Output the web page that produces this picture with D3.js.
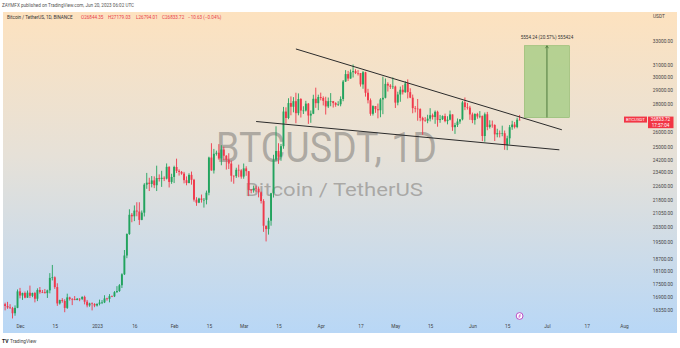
<!DOCTYPE html>
<html>
<head>
<meta charset="utf-8">
<script src="https://cdn.jsdelivr.net/npm/d3@7"></script>
<style>
  body { margin: 0; background: #fff; }
  svg { display: block; font-family: Roboto, "Liberation Sans", sans-serif; }
</style>
</head>
<body>
<div id="chart"></div>
<script>
const width = 680;
const height = 348;
const pane = { 'left': 3, 'top': 12, 'right': 677, 'bottom': 333 };

// daily candles, first one is 2022-11-25
const firstDay = '2022-11-25';
const opens = [16599,16522,16458,16428,16212,16442,
  17163,16977,17092,16885,17105,16966,17089,16837,17224,17128,17127,17085,17209,17775,17804,17356,16633,16777,16738,16439,16896,16825,16821,16779,16835,16830,16918,16707,16547,16634,16607,
  16542,16616,16672,16675,16850,16831,16950,16943,17127,17178,17440,17944,18846,19930,20954,20871,21185,21133,20677,21071,22667,22784,22707,22917,22632,23061,23009,23075,23023,23743,22827,
  23125,23733,23493,23431,23327,22933,22762,23250,22954,21797,21626,21862,21784,21786,22196,24325,23521,24566,24631,24271,24836,24440,24188,23947,23198,23175,23561,23522,
  23147,23646,23475,22362,22354,22436,22429,22216,21718,20363,20187,20633,22163,24197,24746,24375,25055,27423,26965,28038,27768,28175,27307,28333,27493,27494,27994,27139,27268,28348,28028,
  28478,28411,28199,27790,28170,28175,28034,27906,27948,28334,29653,30235,29885,30383,30467,30317,30316,29431,30380,28798,28244,27263,27817,27591,27514,28300,28423,29473,29340,29248,
  29268,28068,28669,29026,28838,29506,28848,28431,27668,27629,27599,26969,26795,26775,26917,27162,27033,27405,26822,26880,27102,26748,26849,27219,26329,26474,26720,26868,28085,27745,27702,
  27219,26819,27249,27069,27116,25728,27230,26339,26499,26477,25841,25925,25902,25918,25125,25576,26327,26510,26339,26844];
const highs = [16666,16701,16600,16483,16548,17249,
  17320,17105,17158,17202,17424,17107,17142,17299,17360,17227,17270,17241,18000,18387,17846,17531,16796,16863,16815,17061,16925,16868,16955,16869,16861,16944,16972,16785,16664,16677,16644,
  16628,16799,16778,16991,16879,17041,16981,17176,17398,17491,17992,19117,19964,21258,21050,21473,21650,21650,21192,22755,23371,23078,23180,23162,23816,23282,23500,23165,23954,23780,23320,
  23812,24255,23587,23485,23433,23158,23350,23452,23011,21938,21906,22090,21890,22319,24380,25250,24879,24766,25191,25121,25023,24476,24600,24132,23219,23689,23880,23600,
  23949,23780,23479,22410,22610,22600,22553,22268,21822,20370,20792,22185,24500,26386,25250,25200,27756,27725,28390,28528,28472,28803,28750,28400,27805,28200,28041,27500,28650,29184,28656,
  28810,28530,28500,28444,28775,28190,28100,28173,28530,29770,30550,30487,30600,31000,30620,30550,30320,30485,30413,29097,28374,27876,27820,28000,28400,30036,29890,29599,29454,29969,
  29338,28879,29266,29379,29677,29820,29138,28664,27821,28336,27654,27055,27030,27194,27663,27279,27500,27485,27183,27150,27277,27090,27495,27219,26631,26932,26886,28193,28447,28044,27835,
  27350,27300,27333,27455,27133,27355,27399,26810,26787,26530,26221,26104,26433,26100,25750,26480,26770,26690,26988,27179];
const lows = [16335,16400,16401,15995,16107,16428,
  16855,16787,16858,16878,16868,16906,16678,16733,17058,17086,17071,16872,17076,17660,17275,16527,16584,16663,16256,16397,16757,16559,16774,16774,16729,16780,16592,16465,16488,16333,16470,
  16499,16548,16605,16647,16753,16679,16908,16911,17100,17142,17315,17910,18714,19887,20551,20611,20873,20407,20659,20861,22422,22292,22506,22462,22292,22850,22534,22878,22977,22500,22715,
  22760,23363,23207,23259,22743,22628,22745,22665,21688,21451,21599,21630,21351,21532,22047,23505,23333,24450,24192,23840,24148,23574,23608,22841,22722,23069,23106,23020,
  23020,23195,22000,22160,22200,22250,21927,21580,20042,19549,19900,20367,21918,24110,23930,24120,24890,26578,26880,27156,27366,26601,27155,27000,27250,27426,26555,26631,27240,27689,27525,
  28234,27862,27210,27675,27805,27711,27767,27821,27800,28170,29620,29700,29875,29967,30236,30125,29266,29100,28510,28010,27125,27140,27331,26942,27020,27235,28380,28891,29088,29079,
  27680,27872,28130,28669,28800,28374,28395,27300,27360,26777,26739,25811,26698,26601,26727,26855,26560,26361,26630,26825,26666,26524,26800,26080,25871,26340,26560,26802,27524,27560,26839,
  26605,26505,26914,26951,25388,25351,26119,26236,26292,25400,25643,25633,25712,24820,24800,25160,26150,26237,26255,26794];
const closes = [16522,16458,16428,16212,16442,17163,
  16977,17092,16885,17105,16966,17089,16837,17224,17128,17127,17085,17209,17775,17804,17356,16633,16777,16738,16439,16896,16825,16821,16779,16835,16830,16918,16707,16547,16634,16607,16542,
  16616,16672,16675,16850,16831,16950,16943,17127,17178,17440,17944,18846,19930,20954,20871,21185,21133,20677,21071,22667,22784,22707,22917,22632,23061,23009,23075,23023,23743,22827,23125,
  23733,23493,23431,23327,22933,22762,23250,22954,21797,21626,21862,21784,21786,22196,24325,23521,24566,24631,24271,24836,24440,24188,23947,23198,23175,23561,23522,23147,
  23646,23475,22362,22354,22436,22429,22216,21718,20363,20187,20633,22163,24197,24746,24375,25055,27423,26965,28038,27768,28175,27307,28333,27493,27494,27994,27139,27268,28348,28028,28478,
  28411,28199,27790,28170,28175,28034,27906,27948,28334,29653,30235,29885,30383,30467,30317,30316,29431,30380,28798,28244,27263,27817,27591,27514,28300,28423,29473,29340,29248,29268,
  28068,28669,29026,28838,29506,28848,28431,27668,27629,27599,26969,26795,26775,26917,27162,27033,27405,26822,26880,27102,26748,26849,27219,26329,26474,26720,26868,28085,27745,27702,27219,
  26819,27249,27069,27116,25728,27230,26339,26499,26477,25841,25925,25902,25918,25125,25576,26327,26510,26339,26844,26833.72];

// price axis labels (log scale) and time axis labels
const priceTicks = [33000, 31000, 30000, 29000, 28000, 26000, 25000, 24200, 23400, 22600, 21800, 21050, 20300, 19500, 18700, 18100, 17500, 16900, 16350];
const timeTicks = ['2022-12-01','2022-12-15','2023-01-01','2023-01-16','2023-02-01','2023-02-15','2023-03-01','2023-03-15','2023-04-01','2023-04-17','2023-05-01','2023-05-15','2023-06-01','2023-06-15','2023-07-01','2023-07-17','2023-08-01'];
const timeLabels = ['Dec','15','2023','16','Feb','15','Mar','15','Apr','17','May','15','Jun','15','Jul','17','Aug'];

// drawings
const upperLine = [['2023-03-22', 32280], ['2023-07-07', 26150]];
const lowerLine = [['2023-03-06', 26720], ['2023-07-06', 24820]];
const rangeDates = ['2023-06-22', '2023-07-01', '2023-07-10'];
const rangePrices = [27000, 32554.24];

const upColor = '#22a35e';
const downColor = '#f0394b';
const parse = d3.utcParse('%Y-%m-%d');

const svg = d3.select('#chart')
  .append('svg')
  .attr('width', width)
  .attr('height', height);

const defs = svg.append('defs');
const grad = defs.append('linearGradient')
  .attr('id', 'bg')
  .attr('x1', 0).attr('y1', 0).attr('x2', 0).attr('y2', 1);
grad.append('stop').attr('offset', '0%').attr('stop-color', '#fde2bf');
grad.append('stop').attr('offset', '45%').attr('stop-color', '#e6e1d8');
grad.append('stop').attr('offset', '100%').attr('stop-color', '#b8d7f6');

defs.append('clipPath').attr('id', 'plotClip')
  .append('rect')
  .attr('x', pane.left).attr('y', pane.top)
  .attr('width', 607).attr('height', pane.bottom - pane.top - 14);

svg.append('rect')
  .attr('width', width).attr('height', height).attr('fill', '#fff');

svg.append('rect')
  .attr('x', pane.left).attr('y', pane.top)
  .attr('width', pane.right - pane.left)
  .attr('height', pane.bottom - pane.top)
  .attr('fill', 'url(#bg)');

const x = d3.scaleUtc()
  .domain([parse('2022-12-01'), parse('2023-08-01')])
  .range([20, 624]);

const y = d3.scaleLog()
  .domain([16350, 33000])
  .range([310, 40.5]);

// watermark
svg.append('text')
  .attr('x', 216).attr('y', 162)
  .attr('textLength', 221).attr('lengthAdjust', 'spacingAndGlyphs')
  .style('font-size', '42px')
  .attr('fill', '#86837f').attr('fill-opacity', 0.6)
  .text('BTCUSDT, 1D');

svg.append('text')
  .attr('x', 245).attr('y', 196)
  .attr('textLength', 178).attr('lengthAdjust', 'spacingAndGlyphs')
  .style('font-size', '18px')
  .attr('fill', '#86837f').attr('fill-opacity', 0.6)
  .text('Bitcoin / TetherUS');

// candles
const data = closes.map((c, i) => ({
  date: d3.utcDay.offset(parse(firstDay), i),
  open: opens[i], high: highs[i], low: lows[i], close: c
}));

const plot = svg.append('g').attr('clip-path', 'url(#plotClip)');

const candles = plot.selectAll('g.candle')
  .data(data)
  .enter()
  .append('g')
  .attr('class', 'candle')
  .attr('fill', d => d.close >= d.open ? upColor : downColor);

candles.append('rect')
  .attr('x', d => x(d.date) - 0.45)
  .attr('width', 0.9)
  .attr('y', d => y(d.high))
  .attr('height', d => y(d.low) - y(d.high));

candles.append('rect')
  .attr('x', d => x(d.date) - 0.95)
  .attr('width', 1.9)
  .attr('y', d => y(Math.max(d.open, d.close)))
  .attr('height', d => Math.max(0.6, Math.abs(y(d.open) - y(d.close))));

// trend lines
const line = d3.line()
  .x(d => x(parse(d[0])))
  .y(d => y(d[1]));

[upperLine, lowerLine].forEach(l => {
  plot.append('path')
    .attr('d', line(l))
    .attr('fill', 'none')
    .attr('stroke', '#2b2b2b')
    .attr('stroke-width', 1);
});

// price range box
const rx0 = x(parse(rangeDates[0]));
const rx1 = x(parse(rangeDates[2]));
const rxm = x(parse(rangeDates[1]));
svg.append('rect')
  .attr('x', rx0).attr('y', y(rangePrices[1]))
  .attr('width', rx1 - rx0)
  .attr('height', y(rangePrices[0]) - y(rangePrices[1]))
  .attr('fill', '#9fcb80').attr('fill-opacity', 0.75)
  .attr('stroke', '#86b866').attr('stroke-width', 0.6);
svg.append('line')
  .attr('x1', rxm).attr('x2', rxm)
  .attr('y1', y(rangePrices[0])).attr('y2', y(rangePrices[1]))
  .attr('stroke', '#4f7a3e').attr('stroke-width', 1);
svg.append('path')
  .attr('d', `M${rxm - 1.5},${y(rangePrices[1]) + 2.5}L${rxm},${y(rangePrices[1])}L${rxm + 1.5},${y(rangePrices[1]) + 2.5}`)
  .attr('fill', 'none').attr('stroke', '#4f7a3e').attr('stroke-width', 0.8);
svg.append('text')
  .attr('x', rxm).attr('y', y(rangePrices[1]) - 6.5)
  .attr('text-anchor', 'middle')
  .style('font-size', '4.6px')
  .attr('fill', '#333')
  .text('5554.24 (20.57%) 555424');

// price axis
const yAxis = d3.axisLeft(y)
  .tickValues(priceTicks)
  .tickFormat(d3.format('.2f'))
  .tickSize(0)
  .tickPadding(0);
const gY = svg.append('g').attr('transform', 'translate(673,0)').call(yAxis);
gY.select('.domain').remove();
gY.selectAll('text').style('font-size', '4.8px').attr('fill', '#444').attr('font-family', 'Roboto');

svg.append('text')
  .attr('x', 653).attr('y', 18)
  .style('font-size', '4.8px').attr('fill', '#444')
  .text('USDT');

// time axis
const xAxis = d3.axisBottom(x)
  .tickValues(timeTicks.map(parse))
  .tickFormat((d, i) => timeLabels[i])
  .tickSize(0)
  .tickPadding(0);
const gX = svg.append('g').attr('transform', 'translate(0,325)').call(xAxis);
gX.select('.domain').remove();
gX.selectAll('text').style('font-size', '4.8px').attr('fill', '#444').attr('font-family', 'Roboto');

// last price label
const lastY = y(closes[closes.length - 1]);
svg.append('rect')
  .attr('x', 624).attr('y', lastY - 3.3).attr('width', 23).attr('height', 6)
  .attr('fill', '#f23645');
svg.append('text')
  .attr('x', 635.5).attr('y', lastY + 1.6).attr('text-anchor', 'middle')
  .style('font-size', '4.4px').attr('fill', '#fff')
  .text('BTCUSDT');
svg.append('rect')
  .attr('x', 648).attr('y', lastY - 3.3).attr('width', 25.5).attr('height', 11.6)
  .attr('fill', '#f23645');
svg.append('text')
  .attr('x', 660.5).attr('y', lastY + 1.6).attr('text-anchor', 'middle')
  .style('font-size', '4.6px').attr('fill', '#fff')
  .text('26833.72');
svg.append('text')
  .attr('x', 660.5).attr('y', lastY + 7.3).attr('text-anchor', 'middle')
  .style('font-size', '4.6px').attr('fill', '#fff')
  .text('17:57:04');

// event marker on time axis
const mx = x(parse('2023-06-20'));
svg.append('circle')
  .attr('cx', mx).attr('cy', 316).attr('r', 3.4)
  .attr('fill', '#fff').attr('stroke', '#b43bbf').attr('stroke-width', 0.9);
svg.append('path')
  .attr('d', `M${mx + 0.8},${314}L${mx - 0.9},${316.3}L${mx + 0.9},${315.7}L${mx - 0.8},${318}`)
  .attr('fill', 'none').attr('stroke', '#b43bbf').attr('stroke-width', 0.6);

// header and legend
svg.append('text')
  .attr('x', 2).attr('y', 7)
  .style('font-size', '4.6px').attr('fill', '#555')
  .text('ZAYMFX published on TradingView.com, Jun 20, 2023 06:02 UTC');

svg.append('text')
  .attr('x', 7).attr('y', 18.5)
  .style('font-size', '4.6px').attr('fill', '#333')
  .text('Bitcoin / TetherUS, 1D, BINANCE');

const legendParts = [
  [81, 'O26844.35'], [108, 'H27179.03'], [136, 'L26794.01'], [162, 'C26833.72'], [188, '\u221210.63 (\u22120.04%)']
];
svg.selectAll('text.legend')
  .data(legendParts)
  .enter()
  .append('text')
  .attr('class', 'legend')
  .attr('x', d => d[0]).attr('y', 18.5)
  .style('font-size', '4.6px').attr('fill', '#e8404a')
  .text(d => d[1]);

// footer
svg.append('text')
  .attr('x', 2).attr('y', 342.5)
  .style('font-size', '5px').style('font-weight', 'bold').attr('fill', '#131722')
  .text('TV');
svg.append('text')
  .attr('x', 10).attr('y', 342.5)
  .style('font-size', '4.8px').attr('fill', '#444')
  .text('TradingView');
</script>
</body>
</html>
